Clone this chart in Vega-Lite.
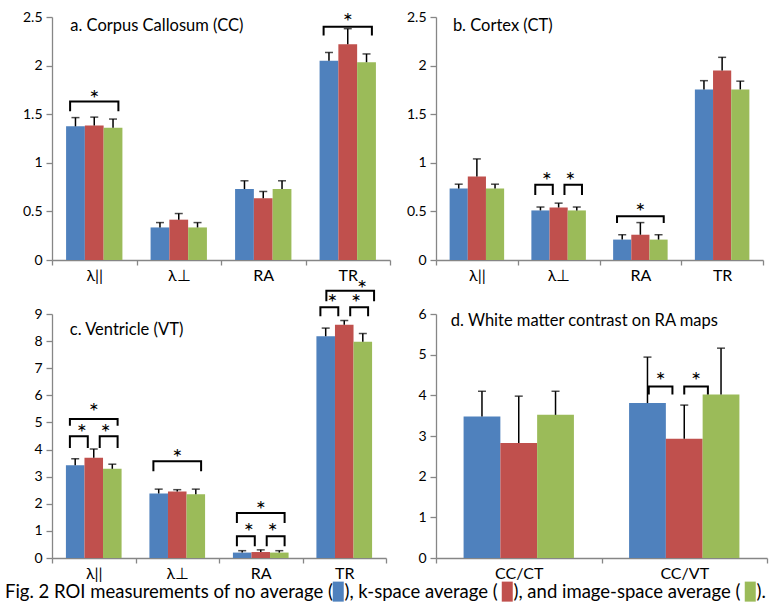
{
  "$schema": "https://vega.github.io/schema/vega-lite/v6.json",
  "autosize": {"type": "pad"},
  "padding": {"left": 5, "top": 10, "right": 5, "bottom": 5},
  "background": "white",
  "columns": 2,
  "align": "none",
  "bounds": "flush",
  "spacing": {"row": 54, "column": 46},
  "config": {
    "font": "Lato",
    "view": {"stroke": null},
    "axis": {"domainColor": "#868686", "tickColor": "#868686", "labelColor": "#000000", "grid": false, "labelFont": "Lato", "domainWidth": 1.3, "tickWidth": 1.3},
    "axisY": {"tickSize": 6, "labelPadding": 4, "labelFontSize": 14, "labelOverlap": false},
    "axisX": {"tickSize": 5, "labelPadding": 2, "labelFontSize": 16, "tickBand": "extent", "labelAngle": 0}
  },
  "datasets": {
    "bars": [
      {"panel": "CC", "metric": "λ||", "series": "no average", "mean": 1.375, "upper": 1.465},
      {"panel": "CC", "metric": "λ||", "series": "k-space average", "mean": 1.385, "upper": 1.47},
      {"panel": "CC", "metric": "λ||", "series": "image-space average", "mean": 1.36, "upper": 1.45},
      {"panel": "CC", "metric": "λ⊥", "series": "no average", "mean": 0.335, "upper": 0.385},
      {"panel": "CC", "metric": "λ⊥", "series": "k-space average", "mean": 0.415, "upper": 0.478},
      {"panel": "CC", "metric": "λ⊥", "series": "image-space average", "mean": 0.335, "upper": 0.385},
      {"panel": "CC", "metric": "RA", "series": "no average", "mean": 0.73, "upper": 0.815},
      {"panel": "CC", "metric": "RA", "series": "k-space average", "mean": 0.635, "upper": 0.705},
      {"panel": "CC", "metric": "RA", "series": "image-space average", "mean": 0.73, "upper": 0.815},
      {"panel": "CC", "metric": "TR", "series": "no average", "mean": 2.05, "upper": 2.135},
      {"panel": "CC", "metric": "TR", "series": "k-space average", "mean": 2.22, "upper": 2.38},
      {"panel": "CC", "metric": "TR", "series": "image-space average", "mean": 2.035, "upper": 2.12},
      {"panel": "CT", "metric": "λ||", "series": "no average", "mean": 0.735, "upper": 0.78},
      {"panel": "CT", "metric": "λ||", "series": "k-space average", "mean": 0.86, "upper": 1.04},
      {"panel": "CT", "metric": "λ||", "series": "image-space average", "mean": 0.735, "upper": 0.78},
      {"panel": "CT", "metric": "λ⊥", "series": "no average", "mean": 0.51, "upper": 0.545},
      {"panel": "CT", "metric": "λ⊥", "series": "k-space average", "mean": 0.54, "upper": 0.585},
      {"panel": "CT", "metric": "λ⊥", "series": "image-space average", "mean": 0.51, "upper": 0.545},
      {"panel": "CT", "metric": "RA", "series": "no average", "mean": 0.21, "upper": 0.26},
      {"panel": "CT", "metric": "RA", "series": "k-space average", "mean": 0.26, "upper": 0.385},
      {"panel": "CT", "metric": "RA", "series": "image-space average", "mean": 0.21, "upper": 0.26},
      {"panel": "CT", "metric": "TR", "series": "no average", "mean": 1.755, "upper": 1.845},
      {"panel": "CT", "metric": "TR", "series": "k-space average", "mean": 1.95, "upper": 2.085},
      {"panel": "CT", "metric": "TR", "series": "image-space average", "mean": 1.755, "upper": 1.84},
      {"panel": "VT", "metric": "λ||", "series": "no average", "mean": 3.42, "upper": 3.66},
      {"panel": "VT", "metric": "λ||", "series": "k-space average", "mean": 3.7, "upper": 4.02},
      {"panel": "VT", "metric": "λ||", "series": "image-space average", "mean": 3.29, "upper": 3.46},
      {"panel": "VT", "metric": "λ⊥", "series": "no average", "mean": 2.38, "upper": 2.54},
      {"panel": "VT", "metric": "λ⊥", "series": "k-space average", "mean": 2.45, "upper": 2.52},
      {"panel": "VT", "metric": "λ⊥", "series": "image-space average", "mean": 2.35, "upper": 2.54},
      {"panel": "VT", "metric": "RA", "series": "no average", "mean": 0.2, "upper": 0.27},
      {"panel": "VT", "metric": "RA", "series": "k-space average", "mean": 0.22, "upper": 0.3},
      {"panel": "VT", "metric": "RA", "series": "image-space average", "mean": 0.2, "upper": 0.27},
      {"panel": "VT", "metric": "TR", "series": "no average", "mean": 8.18, "upper": 8.48},
      {"panel": "VT", "metric": "TR", "series": "k-space average", "mean": 8.6, "upper": 8.76},
      {"panel": "VT", "metric": "TR", "series": "image-space average", "mean": 7.98, "upper": 8.28},
      {"panel": "WM", "metric": "CC/CT", "series": "no average", "mean": 3.48, "upper": 4.1},
      {"panel": "WM", "metric": "CC/CT", "series": "k-space average", "mean": 2.83, "upper": 3.98},
      {"panel": "WM", "metric": "CC/CT", "series": "image-space average", "mean": 3.52, "upper": 4.1},
      {"panel": "WM", "metric": "CC/VT", "series": "no average", "mean": 3.81, "upper": 4.94},
      {"panel": "WM", "metric": "CC/VT", "series": "k-space average", "mean": 2.93, "upper": 3.76},
      {"panel": "WM", "metric": "CC/VT", "series": "image-space average", "mean": 4.02, "upper": 5.16}
    ],
    "brackets": [
      {"panel": "CC", "metric": "λ||", "id": "c1", "seq": 1, "slot": 2, "y": 1.53},
      {"panel": "CC", "metric": "λ||", "id": "c1", "seq": 2, "slot": 2, "y": 1.63},
      {"panel": "CC", "metric": "λ||", "id": "c1", "seq": 3, "slot": 10, "y": 1.63},
      {"panel": "CC", "metric": "λ||", "id": "c1", "seq": 4, "slot": 10, "y": 1.53},
      {"panel": "CC", "metric": "TR", "id": "c2", "seq": 1, "slot": 2, "y": 2.31},
      {"panel": "CC", "metric": "TR", "id": "c2", "seq": 2, "slot": 2, "y": 2.4},
      {"panel": "CC", "metric": "TR", "id": "c2", "seq": 3, "slot": 10, "y": 2.4},
      {"panel": "CC", "metric": "TR", "id": "c2", "seq": 4, "slot": 10, "y": 2.31},
      {"panel": "CT", "metric": "λ⊥", "id": "t1", "seq": 1, "slot": 2, "y": 0.67},
      {"panel": "CT", "metric": "λ⊥", "id": "t1", "seq": 2, "slot": 2, "y": 0.775},
      {"panel": "CT", "metric": "λ⊥", "id": "t1", "seq": 3, "slot": 5, "y": 0.775},
      {"panel": "CT", "metric": "λ⊥", "id": "t1", "seq": 4, "slot": 5, "y": 0.67},
      {"panel": "CT", "metric": "λ⊥", "id": "t2", "seq": 1, "slot": 7, "y": 0.67},
      {"panel": "CT", "metric": "λ⊥", "id": "t2", "seq": 2, "slot": 7, "y": 0.775},
      {"panel": "CT", "metric": "λ⊥", "id": "t2", "seq": 3, "slot": 10, "y": 0.775},
      {"panel": "CT", "metric": "λ⊥", "id": "t2", "seq": 4, "slot": 10, "y": 0.67},
      {"panel": "CT", "metric": "RA", "id": "t3", "seq": 1, "slot": 2, "y": 0.38},
      {"panel": "CT", "metric": "RA", "id": "t3", "seq": 2, "slot": 2, "y": 0.45},
      {"panel": "CT", "metric": "RA", "id": "t3", "seq": 3, "slot": 10, "y": 0.45},
      {"panel": "CT", "metric": "RA", "id": "t3", "seq": 4, "slot": 10, "y": 0.38},
      {"panel": "VT", "metric": "λ||", "id": "v1", "seq": 1, "slot": 2, "y": 4.88},
      {"panel": "VT", "metric": "λ||", "id": "v1", "seq": 2, "slot": 2, "y": 5.13},
      {"panel": "VT", "metric": "λ||", "id": "v1", "seq": 3, "slot": 10, "y": 5.13},
      {"panel": "VT", "metric": "λ||", "id": "v1", "seq": 4, "slot": 10, "y": 4.88},
      {"panel": "VT", "metric": "λ||", "id": "v2", "seq": 1, "slot": 2, "y": 4.06},
      {"panel": "VT", "metric": "λ||", "id": "v2", "seq": 2, "slot": 2, "y": 4.49},
      {"panel": "VT", "metric": "λ||", "id": "v2", "seq": 3, "slot": 5, "y": 4.49},
      {"panel": "VT", "metric": "λ||", "id": "v2", "seq": 4, "slot": 5, "y": 4.06},
      {"panel": "VT", "metric": "λ||", "id": "v3", "seq": 1, "slot": 7, "y": 4.06},
      {"panel": "VT", "metric": "λ||", "id": "v3", "seq": 2, "slot": 7, "y": 4.49},
      {"panel": "VT", "metric": "λ||", "id": "v3", "seq": 3, "slot": 10, "y": 4.49},
      {"panel": "VT", "metric": "λ||", "id": "v3", "seq": 4, "slot": 10, "y": 4.06},
      {"panel": "VT", "metric": "λ⊥", "id": "v4", "seq": 1, "slot": 2, "y": 3.2},
      {"panel": "VT", "metric": "λ⊥", "id": "v4", "seq": 2, "slot": 2, "y": 3.57},
      {"panel": "VT", "metric": "λ⊥", "id": "v4", "seq": 3, "slot": 10, "y": 3.57},
      {"panel": "VT", "metric": "λ⊥", "id": "v4", "seq": 4, "slot": 10, "y": 3.2},
      {"panel": "VT", "metric": "RA", "id": "v5", "seq": 1, "slot": 2, "y": 1.29},
      {"panel": "VT", "metric": "RA", "id": "v5", "seq": 2, "slot": 2, "y": 1.66},
      {"panel": "VT", "metric": "RA", "id": "v5", "seq": 3, "slot": 10, "y": 1.66},
      {"panel": "VT", "metric": "RA", "id": "v5", "seq": 4, "slot": 10, "y": 1.29},
      {"panel": "VT", "metric": "RA", "id": "v6", "seq": 1, "slot": 2, "y": 0.43},
      {"panel": "VT", "metric": "RA", "id": "v6", "seq": 2, "slot": 2, "y": 0.8},
      {"panel": "VT", "metric": "RA", "id": "v6", "seq": 3, "slot": 5, "y": 0.8},
      {"panel": "VT", "metric": "RA", "id": "v6", "seq": 4, "slot": 5, "y": 0.43},
      {"panel": "VT", "metric": "RA", "id": "v7", "seq": 1, "slot": 7, "y": 0.43},
      {"panel": "VT", "metric": "RA", "id": "v7", "seq": 2, "slot": 7, "y": 0.8},
      {"panel": "VT", "metric": "RA", "id": "v7", "seq": 3, "slot": 10, "y": 0.8},
      {"panel": "VT", "metric": "RA", "id": "v7", "seq": 4, "slot": 10, "y": 0.43},
      {"panel": "VT", "metric": "TR", "id": "v8", "seq": 1, "slot": 2, "y": 8.92},
      {"panel": "VT", "metric": "TR", "id": "v8", "seq": 2, "slot": 2, "y": 9.25},
      {"panel": "VT", "metric": "TR", "id": "v8", "seq": 3, "slot": 5, "y": 9.25},
      {"panel": "VT", "metric": "TR", "id": "v8", "seq": 4, "slot": 5, "y": 8.92},
      {"panel": "VT", "metric": "TR", "id": "v9", "seq": 1, "slot": 7, "y": 8.92},
      {"panel": "VT", "metric": "TR", "id": "v9", "seq": 2, "slot": 7, "y": 9.25},
      {"panel": "VT", "metric": "TR", "id": "v9", "seq": 3, "slot": 10, "y": 9.25},
      {"panel": "VT", "metric": "TR", "id": "v9", "seq": 4, "slot": 10, "y": 8.92},
      {"panel": "VT", "metric": "TR", "id": "v10", "seq": 1, "slot": 3, "y": 9.47},
      {"panel": "VT", "metric": "TR", "id": "v10", "seq": 2, "slot": 3, "y": 9.86},
      {"panel": "VT", "metric": "TR", "id": "v10", "seq": 3, "slot": 11, "y": 9.86},
      {"panel": "VT", "metric": "TR", "id": "v10", "seq": 4, "slot": 11, "y": 9.47},
      {"panel": "WM", "metric": "CC/VT", "id": "w1", "seq": 1, "slot": 3, "y": 4.02},
      {"panel": "WM", "metric": "CC/VT", "id": "w1", "seq": 2, "slot": 3, "y": 4.22},
      {"panel": "WM", "metric": "CC/VT", "id": "w1", "seq": 3, "slot": 5, "y": 4.22},
      {"panel": "WM", "metric": "CC/VT", "id": "w1", "seq": 4, "slot": 5, "y": 4.02},
      {"panel": "WM", "metric": "CC/VT", "id": "w2", "seq": 1, "slot": 6, "y": 4.02},
      {"panel": "WM", "metric": "CC/VT", "id": "w2", "seq": 2, "slot": 6, "y": 4.22},
      {"panel": "WM", "metric": "CC/VT", "id": "w2", "seq": 3, "slot": 8, "y": 4.22},
      {"panel": "WM", "metric": "CC/VT", "id": "w2", "seq": 4, "slot": 8, "y": 4.02}
    ],
    "stars": [
      {"panel": "CC", "metric": "λ||", "slot": 6, "y": 1.71, "sym": "*"},
      {"panel": "CC", "metric": "TR", "slot": 6, "y": 2.5, "sym": "*"},
      {"panel": "CT", "metric": "λ⊥", "slot": 4, "y": 0.86, "sym": "*"},
      {"panel": "CT", "metric": "λ⊥", "slot": 8, "y": 0.86, "sym": "*"},
      {"panel": "CT", "metric": "RA", "slot": 6, "y": 0.55, "sym": "*"},
      {"panel": "VT", "metric": "λ||", "slot": 6, "y": 5.56, "sym": "*"},
      {"panel": "VT", "metric": "λ||", "slot": 4, "y": 4.8, "sym": "*"},
      {"panel": "VT", "metric": "λ||", "slot": 8, "y": 4.8, "sym": "*"},
      {"panel": "VT", "metric": "λ⊥", "slot": 6, "y": 3.87, "sym": "*"},
      {"panel": "VT", "metric": "RA", "slot": 6, "y": 1.97, "sym": "*"},
      {"panel": "VT", "metric": "RA", "slot": 4, "y": 1.14, "sym": "*"},
      {"panel": "VT", "metric": "RA", "slot": 8, "y": 1.14, "sym": "*"},
      {"panel": "VT", "metric": "TR", "slot": 4, "y": 9.6, "sym": "*"},
      {"panel": "VT", "metric": "TR", "slot": 8, "y": 9.6, "sym": "*"},
      {"panel": "VT", "metric": "TR", "slot": 9, "y": 10.1, "sym": "*"},
      {"panel": "WM", "metric": "CC/VT", "slot": 4, "y": 4.47, "sym": "*"},
      {"panel": "WM", "metric": "CC/VT", "slot": 7, "y": 4.47, "sym": "*"}
    ],
    "titles": [
      {"panel": "CC", "title": "a. Corpus Callosum (CC)"},
      {"panel": "CT", "title": "b. Cortex (CT)"},
      {"panel": "VT", "title": "c. Ventricle (VT)"},
      {"panel": "WM", "title": "d. White matter contrast on RA maps"}
    ]
  },
  "concat": [
    {
      "width": 338, "height": 243,
      "resolve": {"scale": {"xOffset": "independent"}},
      "layer": [
        {
          "data": {"name": "bars"},
          "transform": [{"filter": "datum.panel == 'CC'"}],
          "encoding": {
            "x": {"field": "metric", "type": "nominal", "title": null, "scale": {"domain": ["λ||", "λ⊥", "RA", "TR"], "paddingInner": 0, "paddingOuter": 0}},
            "xOffset": {"field": "series", "type": "nominal", "scale": {"domain": ["no average", "k-space average", "image-space average"], "paddingInner": 0, "paddingOuter": 0.75}}
          },
          "layer": [
            {"mark": {"type": "bar"}, "encoding": {
              "y": {"field": "mean", "type": "quantitative", "title": null, "scale": {"domain": [0, 2.5], "nice": false}, "axis": {"values": [0, 0.5, 1, 1.5, 2, 2.5], "format": "~g", "labelOverlap": false}},
              "color": {"field": "series", "type": "nominal", "scale": {"domain": ["no average", "k-space average", "image-space average"], "range": ["#4F81BD", "#C0504D", "#9BBB59"]},
                "legend": {"orient": "none", "legendX": -47, "legendY": 565, "direction": "horizontal", "padding": 0,
                  "title": "Fig. 2 ROI measurements of no average (", "titleOrient": "left", "titleFontSize": 18.5, "titleFontWeight": "normal", "titleColor": "#000000", "titleFont": "Lato", "titlePadding": -5, "titleLimit": 700,
                  "labelExpr": "datum.label == 'no average' ? '), k-space average (' : (datum.label == 'k-space average' ? '), and image-space average (' : ').')",
                  "labelFontSize": 18.5, "labelFont": "Lato", "labelColor": "#000000", "labelLimit": 700, "labelOffset": -3,
                  "symbolType": "M-1,-1.82H1V1.82H-1Z", "symbolSize": 121, "symbolStrokeWidth": 0, "symbolOpacity": 1, "columnPadding": -4}}
            }},
            {"mark": {"type": "rule", "color": "#000000", "strokeWidth": 1.5}, "encoding": {"y": {"field": "mean", "type": "quantitative", "title": null, "scale": {"domain": [0, 2.5], "nice": false}, "axis": {"values": [0, 0.5, 1, 1.5, 2, 2.5], "format": "~g", "labelOverlap": false}}, "y2": {"field": "upper"}}},
            {"mark": {"type": "tick", "color": "#000000", "thickness": 1.5, "size": 8}, "encoding": {"y": {"field": "upper", "type": "quantitative", "title": null, "scale": {"domain": [0, 2.5], "nice": false}, "axis": {"values": [0, 0.5, 1, 1.5, 2, 2.5], "format": "~g", "labelOverlap": false}}}}
          ]
        },
        {
          "data": {"name": "brackets"},
          "transform": [{"filter": "datum.panel == 'CC'"}],
          "mark": {"type": "line", "color": "#000000", "strokeWidth": 2},
          "encoding": {
            "x": {"field": "metric", "type": "nominal"},
            "xOffset": {"field": "slot", "type": "ordinal", "scale": {"type": "point", "domain": [0,1,2,3,4,5,6,7,8,9,10,11,12], "padding": 3}},
            "y": {"field": "y", "type": "quantitative", "title": null, "scale": {"domain": [0, 2.5], "nice": false}, "axis": {"values": [0, 0.5, 1, 1.5, 2, 2.5], "format": "~g", "labelOverlap": false}},
            "detail": {"field": "id"},
            "order": {"field": "seq"}
          }
        },
        {
          "data": {"name": "stars"},
          "transform": [{"filter": "datum.panel == 'CC'"}],
          "mark": {"type": "text", "fontSize": 24, "baseline": "middle", "dy": 6, "color": "#000000"},
          "encoding": {
            "x": {"field": "metric", "type": "nominal"},
            "xOffset": {"field": "slot", "type": "ordinal", "scale": {"type": "point", "domain": [0,1,2,3,4,5,6,7,8,9,10,11,12], "padding": 3}},
            "y": {"field": "y", "type": "quantitative", "title": null, "scale": {"domain": [0, 2.5], "nice": false}, "axis": {"values": [0, 0.5, 1, 1.5, 2, 2.5], "format": "~g", "labelOverlap": false}},
            "text": {"field": "sym"}
          }
        },
        {
          "data": {"name": "titles"},
          "transform": [{"filter": "datum.panel == 'CC'"}],
          "mark": {"type": "text", "align": "left", "baseline": "middle", "fontSize": 16.5, "dx": -24, "color": "#000000"},
          "encoding": {
            "x": {"datum": "λ||", "type": "nominal"},
            "y": {"datum": 2.407, "type": "quantitative", "title": null, "scale": {"domain": [0, 2.5], "nice": false}, "axis": {"values": [0, 0.5, 1, 1.5, 2, 2.5], "format": "~g", "labelOverlap": false}},
            "text": {"field": "title"}
          }
        }
      ]
    },
    {
      "width": 327, "height": 243,
      "resolve": {"scale": {"xOffset": "independent"}},
      "layer": [
        {
          "data": {"name": "bars"},
          "transform": [{"filter": "datum.panel == 'CT'"}],
          "encoding": {
            "x": {"field": "metric", "type": "nominal", "title": null, "scale": {"domain": ["λ||", "λ⊥", "RA", "TR"], "paddingInner": 0, "paddingOuter": 0}},
            "xOffset": {"field": "series", "type": "nominal", "scale": {"domain": ["no average", "k-space average", "image-space average"], "paddingInner": 0, "paddingOuter": 0.75}}
          },
          "layer": [
            {"mark": {"type": "bar"}, "encoding": {
              "y": {"field": "mean", "type": "quantitative", "title": null, "scale": {"domain": [0, 2.5], "nice": false}, "axis": {"values": [0, 0.5, 1, 1.5, 2, 2.5], "format": "~g", "labelOverlap": false}},
              "color": {"field": "series", "type": "nominal", "scale": {"domain": ["no average", "k-space average", "image-space average"], "range": ["#4F81BD", "#C0504D", "#9BBB59"]}}
            }},
            {"mark": {"type": "rule", "color": "#000000", "strokeWidth": 1.5}, "encoding": {"y": {"field": "mean", "type": "quantitative", "title": null, "scale": {"domain": [0, 2.5], "nice": false}, "axis": {"values": [0, 0.5, 1, 1.5, 2, 2.5], "format": "~g", "labelOverlap": false}}, "y2": {"field": "upper"}}},
            {"mark": {"type": "tick", "color": "#000000", "thickness": 1.5, "size": 8}, "encoding": {"y": {"field": "upper", "type": "quantitative", "title": null, "scale": {"domain": [0, 2.5], "nice": false}, "axis": {"values": [0, 0.5, 1, 1.5, 2, 2.5], "format": "~g", "labelOverlap": false}}}}
          ]
        },
        {
          "data": {"name": "brackets"},
          "transform": [{"filter": "datum.panel == 'CT'"}],
          "mark": {"type": "line", "color": "#000000", "strokeWidth": 2},
          "encoding": {
            "x": {"field": "metric", "type": "nominal"},
            "xOffset": {"field": "slot", "type": "ordinal", "scale": {"type": "point", "domain": [0,1,2,3,4,5,6,7,8,9,10,11,12], "padding": 3}},
            "y": {"field": "y", "type": "quantitative", "title": null, "scale": {"domain": [0, 2.5], "nice": false}, "axis": {"values": [0, 0.5, 1, 1.5, 2, 2.5], "format": "~g", "labelOverlap": false}},
            "detail": {"field": "id"},
            "order": {"field": "seq"}
          }
        },
        {
          "data": {"name": "stars"},
          "transform": [{"filter": "datum.panel == 'CT'"}],
          "mark": {"type": "text", "fontSize": 24, "baseline": "middle", "dy": 6, "color": "#000000"},
          "encoding": {
            "x": {"field": "metric", "type": "nominal"},
            "xOffset": {"field": "slot", "type": "ordinal", "scale": {"type": "point", "domain": [0,1,2,3,4,5,6,7,8,9,10,11,12], "padding": 3}},
            "y": {"field": "y", "type": "quantitative", "title": null, "scale": {"domain": [0, 2.5], "nice": false}, "axis": {"values": [0, 0.5, 1, 1.5, 2, 2.5], "format": "~g", "labelOverlap": false}},
            "text": {"field": "sym"}
          }
        },
        {
          "data": {"name": "titles"},
          "transform": [{"filter": "datum.panel == 'CT'"}],
          "mark": {"type": "text", "align": "left", "baseline": "middle", "fontSize": 16.5, "dx": -24, "color": "#000000"},
          "encoding": {
            "x": {"datum": "λ||", "type": "nominal"},
            "y": {"datum": 2.407, "type": "quantitative", "title": null, "scale": {"domain": [0, 2.5], "nice": false}, "axis": {"values": [0, 0.5, 1, 1.5, 2, 2.5], "format": "~g", "labelOverlap": false}},
            "text": {"field": "title"}
          }
        }
      ]
    },
    {
      "width": 334, "height": 244,
      "resolve": {"scale": {"xOffset": "independent"}},
      "layer": [
        {
          "data": {"name": "bars"},
          "transform": [{"filter": "datum.panel == 'VT'"}],
          "encoding": {
            "x": {"field": "metric", "type": "nominal", "title": null, "scale": {"domain": ["λ||", "λ⊥", "RA", "TR"], "paddingInner": 0, "paddingOuter": 0}},
            "xOffset": {"field": "series", "type": "nominal", "scale": {"domain": ["no average", "k-space average", "image-space average"], "paddingInner": 0, "paddingOuter": 0.75}}
          },
          "layer": [
            {"mark": {"type": "bar"}, "encoding": {
              "y": {"field": "mean", "type": "quantitative", "title": null, "scale": {"domain": [0, 9], "nice": false}, "axis": {"values": [0, 1, 2, 3, 4, 5, 6, 7, 8, 9], "tickCount": 10, "format": "~g", "labelOverlap": false}},
              "color": {"field": "series", "type": "nominal", "scale": {"domain": ["no average", "k-space average", "image-space average"], "range": ["#4F81BD", "#C0504D", "#9BBB59"]}}
            }},
            {"mark": {"type": "rule", "color": "#000000", "strokeWidth": 1.5}, "encoding": {"y": {"field": "mean", "type": "quantitative", "title": null, "scale": {"domain": [0, 9], "nice": false}, "axis": {"values": [0, 1, 2, 3, 4, 5, 6, 7, 8, 9], "tickCount": 10, "format": "~g", "labelOverlap": false}}, "y2": {"field": "upper"}}},
            {"mark": {"type": "tick", "color": "#000000", "thickness": 1.5, "size": 8}, "encoding": {"y": {"field": "upper", "type": "quantitative", "title": null, "scale": {"domain": [0, 9], "nice": false}, "axis": {"values": [0, 1, 2, 3, 4, 5, 6, 7, 8, 9], "tickCount": 10, "format": "~g", "labelOverlap": false}}}}
          ]
        },
        {
          "data": {"name": "brackets"},
          "transform": [{"filter": "datum.panel == 'VT'"}],
          "mark": {"type": "line", "color": "#000000", "strokeWidth": 2},
          "encoding": {
            "x": {"field": "metric", "type": "nominal"},
            "xOffset": {"field": "slot", "type": "ordinal", "scale": {"type": "point", "domain": [0,1,2,3,4,5,6,7,8,9,10,11,12], "padding": 3}},
            "y": {"field": "y", "type": "quantitative", "title": null, "scale": {"domain": [0, 9], "nice": false}, "axis": {"values": [0, 1, 2, 3, 4, 5, 6, 7, 8, 9], "tickCount": 10, "format": "~g", "labelOverlap": false}},
            "detail": {"field": "id"},
            "order": {"field": "seq"}
          }
        },
        {
          "data": {"name": "stars"},
          "transform": [{"filter": "datum.panel == 'VT'"}],
          "mark": {"type": "text", "fontSize": 24, "baseline": "middle", "dy": 6, "color": "#000000"},
          "encoding": {
            "x": {"field": "metric", "type": "nominal"},
            "xOffset": {"field": "slot", "type": "ordinal", "scale": {"type": "point", "domain": [0,1,2,3,4,5,6,7,8,9,10,11,12], "padding": 3}},
            "y": {"field": "y", "type": "quantitative", "title": null, "scale": {"domain": [0, 9], "nice": false}, "axis": {"values": [0, 1, 2, 3, 4, 5, 6, 7, 8, 9], "tickCount": 10, "format": "~g", "labelOverlap": false}},
            "text": {"field": "sym"}
          }
        },
        {
          "data": {"name": "titles"},
          "transform": [{"filter": "datum.panel == 'VT'"}],
          "mark": {"type": "text", "align": "left", "baseline": "middle", "fontSize": 16.5, "dx": -24, "color": "#000000"},
          "encoding": {
            "x": {"datum": "λ||", "type": "nominal"},
            "y": {"datum": 8.41, "type": "quantitative", "title": null, "scale": {"domain": [0, 9], "nice": false}, "axis": {"values": [0, 1, 2, 3, 4, 5, 6, 7, 8, 9], "tickCount": 10, "format": "~g", "labelOverlap": false}},
            "text": {"field": "title"}
          }
        }
      ]
    },
    {
      "width": 331, "height": 244,
      "resolve": {"scale": {"xOffset": "independent"}},
      "layer": [
        {
          "data": {"name": "bars"},
          "transform": [{"filter": "datum.panel == 'WM'"}],
          "encoding": {
            "x": {"field": "metric", "type": "nominal", "title": null, "scale": {"domain": ["CC/CT", "CC/VT"], "paddingInner": 0, "paddingOuter": 0}},
            "xOffset": {"field": "series", "type": "nominal", "scale": {"domain": ["no average", "k-space average", "image-space average"], "paddingInner": 0, "paddingOuter": 0.75}}
          },
          "layer": [
            {"mark": {"type": "bar"}, "encoding": {
              "y": {"field": "mean", "type": "quantitative", "title": null, "scale": {"domain": [0, 6], "nice": false}, "axis": {"values": [0, 1, 2, 3, 4, 5, 6], "format": "~g", "labelOverlap": false}},
              "color": {"field": "series", "type": "nominal", "scale": {"domain": ["no average", "k-space average", "image-space average"], "range": ["#4F81BD", "#C0504D", "#9BBB59"]}}
            }},
            {"mark": {"type": "rule", "color": "#000000", "strokeWidth": 1.5}, "encoding": {"y": {"field": "mean", "type": "quantitative", "title": null, "scale": {"domain": [0, 6], "nice": false}, "axis": {"values": [0, 1, 2, 3, 4, 5, 6], "format": "~g", "labelOverlap": false}}, "y2": {"field": "upper"}}},
            {"mark": {"type": "tick", "color": "#000000", "thickness": 1.5, "size": 8}, "encoding": {"y": {"field": "upper", "type": "quantitative", "title": null, "scale": {"domain": [0, 6], "nice": false}, "axis": {"values": [0, 1, 2, 3, 4, 5, 6], "format": "~g", "labelOverlap": false}}}}
          ]
        },
        {
          "data": {"name": "brackets"},
          "transform": [{"filter": "datum.panel == 'WM'"}],
          "mark": {"type": "line", "color": "#000000", "strokeWidth": 2},
          "encoding": {
            "x": {"field": "metric", "type": "nominal"},
            "xOffset": {"field": "slot", "type": "ordinal", "scale": {"type": "point", "domain": [0,1,2,3,4,5,6,7,8,9,10,11,12], "padding": 3}},
            "y": {"field": "y", "type": "quantitative", "title": null, "scale": {"domain": [0, 6], "nice": false}, "axis": {"values": [0, 1, 2, 3, 4, 5, 6], "format": "~g", "labelOverlap": false}},
            "detail": {"field": "id"},
            "order": {"field": "seq"}
          }
        },
        {
          "data": {"name": "stars"},
          "transform": [{"filter": "datum.panel == 'WM'"}],
          "mark": {"type": "text", "fontSize": 24, "baseline": "middle", "dy": 6, "color": "#000000"},
          "encoding": {
            "x": {"field": "metric", "type": "nominal"},
            "xOffset": {"field": "slot", "type": "ordinal", "scale": {"type": "point", "domain": [0,1,2,3,4,5,6,7,8,9,10,11,12], "padding": 3}},
            "y": {"field": "y", "type": "quantitative", "title": null, "scale": {"domain": [0, 6], "nice": false}, "axis": {"values": [0, 1, 2, 3, 4, 5, 6], "format": "~g", "labelOverlap": false}},
            "text": {"field": "sym"}
          }
        },
        {
          "data": {"name": "titles"},
          "transform": [{"filter": "datum.panel == 'WM'"}],
          "mark": {"type": "text", "align": "left", "baseline": "middle", "fontSize": 16.5, "dx": -68, "color": "#000000"},
          "encoding": {
            "x": {"datum": "CC/CT", "type": "nominal"},
            "y": {"datum": 5.83, "type": "quantitative", "title": null, "scale": {"domain": [0, 6], "nice": false}, "axis": {"values": [0, 1, 2, 3, 4, 5, 6], "format": "~g", "labelOverlap": false}},
            "text": {"field": "title"}
          }
        }
      ]
    }
  ]
}
